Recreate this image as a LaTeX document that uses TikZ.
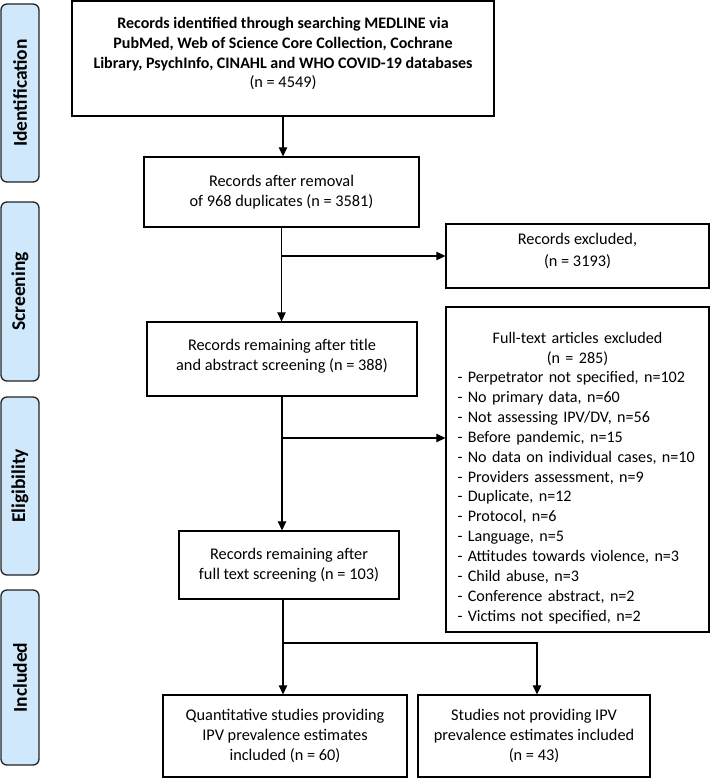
\documentclass[tikz,border=0pt]{standalone}
\usepackage{fontspec}
\setmainfont{Carlito}
\usetikzlibrary{arrows.meta}
\definecolor{sidefill}{RGB}{207,232,251}
\definecolor{sidedraw}{RGB}{35,35,35}
\begin{document}
\begin{tikzpicture}[x=1pt,y=-1pt,
  box/.style={draw=black, line width=1.3pt, align=center, inner sep=0pt,
    font=\fontsize{16.3}{19.75}\selectfont},
  side/.style={draw=sidedraw, fill=sidefill, rounded corners=6pt, line width=1.3pt,
    inner sep=0pt, rotate=90, minimum height=38pt,
    font=\bfseries\fontsize{19.5}{22}\selectfont},
  conn/.style={line width=1.2pt},
  arr/.style={conn, -{Triangle[length=9pt,width=8.5pt]}},
]
\useasboundingbox (0,0) rectangle (710,778);

% phase bars
\node[side, minimum width=178pt] (sid) at (20,93) {Identification};
\node[side, minimum width=179pt] (sscr) at (20,291.5) {Screening};
\node[side, minimum width=178pt] (selig) at (20,486) {Eligibility};
\node[side, minimum width=175pt] (sinc) at (20,677.5) {Included};

% boxes
\node[box, minimum width=422pt, minimum height=115pt] (top) at (283,58.5)
  {{\bfseries\fontsize{16}{19.75}\selectfont Records identified through searching MEDLINE via}\\
   {\bfseries\fontsize{16}{19.75}\selectfont PubMed, Web of Science Core Collection, Cochrane}\\
   {\bfseries\fontsize{16}{19.75}\selectfont Library, PsychInfo, CINAHL and WHO COVID-19 databases}\\
   (n = 4549)\\[-8pt]\mbox{}};
\node[box, minimum width=275pt, minimum height=70pt] (b2) at (281.5,192)
  {Records after removal\\ of 968 duplicates (n = 3581)};
\node[box, minimum width=263pt, minimum height=64pt] (rex) at (577.5,256)
  {Records excluded,\\[2.25pt] (n = 3193)\\[-8pt]\mbox{}};
\node[box, minimum width=270pt, minimum height=74pt] (b3) at (282,359)
  {Records remaining after title\\ and abstract screening (n = 388)\\[-12pt]\mbox{}};
\node[box, text width=252pt, align=left, minimum width=263pt, minimum height=325pt,
      font=\fontsize{16.1}{19.85}\selectfont] (ftx) at (577.5,469.5)
  {\vspace*{8pt}\par
   \centering Full-text articles excluded\\ (n = 285)\par
   \raggedright\leftskip=6pt
   - Perpetrator not specified, n=102\\
   - No primary data, n=60\\
   - Not assessing IPV/DV, n=56\\
   - Before pandemic, n=15\\
   - No data on individual cases, n=10\\
   - Providers assessment, n=9\\
   - Duplicate, n=12\\
   - Protocol, n=6\\
   - Language, n=5\\
   - Attitudes towards violence, n=3\\
   - Child abuse, n=3\\
   - Conference abstract, n=2\\
   - Victims not specified, n=2\par};
\node[box, minimum width=220pt, minimum height=68pt] (b4) at (289,565)
  {Records remaining after\\ full text screening (n = 103)};
\node[box, minimum width=244pt, minimum height=82pt] (bl) at (285,736)
  {Quantitative studies providing\\ IPV prevalence estimates\\ included (n = 60)};
\node[box, minimum width=232pt, minimum height=82pt] (br) at (534,736)
  {Studies not providing IPV\\ prevalence estimates included\\ (n = 43)};

% connectors
\draw[arr] (top.south) -- (top.south |- b2.north);
\draw[arr] (b2.south) -- (b2.south |- b3.north);
\draw[arr] (b2.south |- rex.west) -- (rex.west);
\draw[arr] (b3.south) -- (b3.south |- b4.north);
\coordinate (j2) at (282,438);
\draw[arr] (j2) -- (j2 -| ftx.west);
\coordinate (j3) at (283,643);
\coordinate (j4) at (537,643);
\draw[arr] (b4.south -| j3) -- (j3 |- bl.north);
\draw[arr] (j3) -- (j4) -- (j4 |- br.north);
\end{tikzpicture}
\end{document}
